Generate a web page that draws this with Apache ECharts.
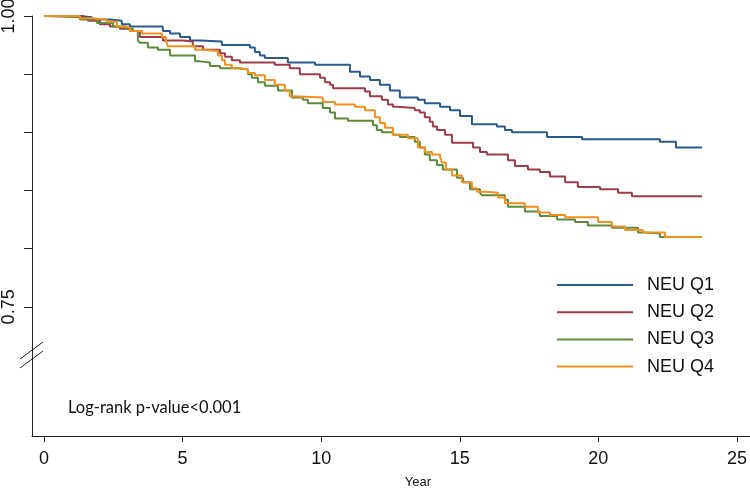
<!DOCTYPE html>
<html>
<head>
<meta charset="utf-8">
<script src="https://cdn.jsdelivr.net/npm/echarts@6/dist/echarts.min.js"></script>
<style>html,body{margin:0;padding:0;background:#fff;overflow:hidden}#c{width:750px;height:488px}</style>
</head>
<body>
<div id="c"></div>
<script>
// ---- Data ----
const seriesNames = ['NEU Q1', 'NEU Q2', 'NEU Q3', 'NEU Q4'];
const xTicks = [0, 5, 10, 15, 20, 25];
const yTicks = [0.75, 0.80, 0.85, 0.90, 0.95, 1.00];
const yLabels = [0.75, 1.00];

const q1Time = [0,1.30,1.73,2.38,2.81,3.10,4.29,4.55,4.91,5.27,5.63,6.42,7.43,7.61,7.79,7.97,8.80,9.78,11.04,11.40,11.76,12.12,12.48,12.84,13.49,13.74,14.29,14.65,15.01,15.44,16.34,16.63,16.88,18.15,19.41,22.22,22.80,23.74];
const q1Surv = [1,0.999,0.997,0.996,0.993,0.991,0.987,0.985,0.982,0.979,0.978,0.975,0.973,0.969,0.966,0.964,0.960,0.958,0.952,0.948,0.945,0.941,0.936,0.930,0.928,0.925,0.922,0.919,0.914,0.907,0.905,0.902,0.900,0.896,0.894,0.892,0.887,0.887];

const q2Time = [0,1.41,1.59,2.02,2.38,2.74,3.10,3.46,4.29,5.01,5.37,5.74,6.35,6.53,6.78,7.07,8.33,8.87,9.23,9.96,10.14,10.32,10.43,11.58,11.76,12.19,12.41,12.59,12.73,13.38,13.56,13.74,13.92,14.03,14.18,14.47,14.72,15.48,15.73,15.98,16.74,16.99,17.46,17.89,18.25,18.80,19.26,20.06,20.71,21.21,23.74];
const q2Surv = [1,0.998,0.996,0.993,0.991,0.989,0.987,0.982,0.979,0.978,0.974,0.971,0.968,0.965,0.962,0.960,0.958,0.955,0.950,0.947,0.943,0.941,0.938,0.935,0.931,0.928,0.924,0.922,0.921,0.919,0.917,0.913,0.909,0.905,0.902,0.898,0.891,0.887,0.883,0.881,0.876,0.871,0.868,0.866,0.862,0.857,0.853,0.851,0.848,0.845,0.845];

const q3Time = [0,0.04,1.30,1.91,2.49,2.92,3.21,3.39,3.46,3.75,4.11,4.55,5.45,5.63,5.99,6.35,7.00,7.36,7.50,7.72,7.97,8.44,8.95,9.34,9.52,10.06,10.32,10.50,10.97,11.87,12.01,12.19,12.59,12.84,13.38,13.56,13.74,13.92,14.18,14.39,14.90,15.12,15.37,15.73,15.80,16.63,16.74,17.35,17.89,18.51,19.16,19.62,20.49,21.43,21.68,22.22,23.74];
const q3Surv = [1,0.999,0.997,0.994,0.991,0.989,0.987,0.979,0.977,0.973,0.971,0.966,0.961,0.960,0.957,0.955,0.954,0.950,0.947,0.943,0.940,0.936,0.930,0.928,0.925,0.921,0.917,0.912,0.910,0.906,0.902,0.900,0.898,0.896,0.892,0.887,0.881,0.876,0.872,0.868,0.861,0.857,0.851,0.848,0.846,0.842,0.836,0.832,0.828,0.825,0.823,0.820,0.818,0.814,0.813,0.810,0.810];

const q4Time = [0,1.30,1.73,2.27,2.63,2.92,3.10,3.54,4.26,4.40,4.47,5.45,5.74,6.28,6.42,6.53,6.78,7.07,7.36,7.61,7.97,8.33,8.69,8.87,8.98,10.06,10.50,11.22,11.58,11.94,12.12,12.30,12.59,13.13,13.49,13.74,14.00,14.29,14.36,14.50,14.72,15.08,15.44,15.62,15.91,16.38,16.63,17.35,17.82,18.25,18.80,19.99,20.49,20.96,21.61,22.40,23.74];
const q4Surv = [1,0.998,0.997,0.995,0.991,0.990,0.987,0.985,0.982,0.979,0.974,0.971,0.970,0.966,0.962,0.958,0.955,0.954,0.951,0.949,0.945,0.941,0.936,0.931,0.930,0.926,0.924,0.922,0.919,0.913,0.908,0.904,0.898,0.895,0.887,0.883,0.881,0.879,0.874,0.868,0.863,0.857,0.852,0.849,0.848,0.844,0.839,0.836,0.831,0.829,0.827,0.823,0.819,0.816,0.814,0.810,0.810];

const colors = ['#2b5b8e', '#a03c4a', '#5e8a3b', '#f29020'];
const annotation = 'Log-rank p-value<0.001';

// ---- Build ----
function pairs(t, s) { return t.map((v, i) => [v, s[i]]); }
const allData = [pairs(q1Time, q1Surv), pairs(q2Time, q2Surv), pairs(q3Time, q3Surv), pairs(q4Time, q4Surv)];

const chart = echarts.init(document.getElementById('c'), null, { renderer: 'canvas' });
const axisColor = '#222';
const option = {
  backgroundColor: '#ffffff',
  animation: false,
  color: colors,
  grid: { left: 32, right: 0, top: 16, bottom: 52, containLabel: false, outerBoundsMode: 'none' },
  xAxis: {
    type: 'value', min: -0.43, max: 25.47,
    name: 'Year', nameLocation: 'middle', nameGap: 40,
    nameTextStyle: { fontFamily: 'Liberation Sans, Arial', fontSize: 13, color: '#111', padding: [0, 0, 0, 54] },
    axisLine: { show: true, onZero: false, lineStyle: { color: axisColor, width: 1 } },
    axisTick: { show: true, length: 6, customValues: xTicks, lineStyle: { color: axisColor } },
    axisLabel: { customValues: xTicks, margin: 14, fontFamily: 'Liberation Sans, Arial', fontSize: 18, color: '#111' },
    splitLine: { show: false }
  },
  yAxis: {
    type: 'value', min: 0.639, max: 1.0,
    axisLine: { show: true, onZero: false, lineStyle: { color: axisColor, width: 1 } },
    axisTick: { show: true, length: 8, customValues: yTicks, lineStyle: { color: axisColor } },
    axisLabel: { customValues: yLabels, rotate: 90, margin: 14, fontFamily: 'Liberation Sans, Arial', fontSize: 18, color: '#111',
      formatter: v => v.toFixed(2) },
    splitLine: { show: false }
  },
  legend: {
    orient: 'vertical', left: 557, top: 275, padding: 0,
    icon: 'rect', itemWidth: 76, itemHeight: 2, itemGap: 7.2,
    textStyle: { fontFamily: 'Liberation Sans, Arial', fontSize: 18, lineHeight: 20, color: '#111', padding: [0, 0, 0, 9] },
    data: seriesNames
  },
  series: seriesNames.map((n, i) => ({
    name: n, type: 'line', step: 'end', data: allData[i],
    showSymbol: false, symbol: 'none',
    lineStyle: { width: 2, color: colors[i] },
    itemStyle: { color: colors[i] },
    z: 2 + i
  })),
  graphic: [
    { type: 'text', left: 68, top: 399, style: { text: annotation, font: '16.5px Lato, "Open Sans", sans-serif', fill: '#111' } },
    { type: 'line', shape: { x1: 20, y1: 359, x2: 43, y2: 342 }, style: { stroke: axisColor, lineWidth: 1 } },
    { type: 'line', shape: { x1: 20, y1: 368, x2: 43, y2: 351 }, style: { stroke: axisColor, lineWidth: 1 } }
  ]
};
chart.setOption(option);
</script>
</body>
</html>
